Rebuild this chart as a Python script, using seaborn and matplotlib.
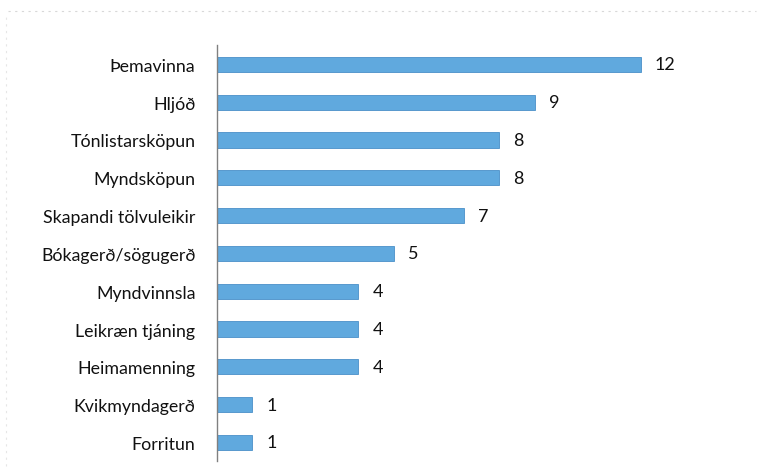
import numpy as np
import pandas as pd
import matplotlib
matplotlib.use("Agg")
import matplotlib.pyplot as plt
import seaborn as sns

# categories and counts (top to bottom)
categories = ["Þemavinna", "Hljóð", "Tónlistarsköpun", "Myndsköpun",
              "Skapandi tölvuleikir", "Bókagerð/sögugerð", "Myndvinnsla",
              "Leikræn tjáning", "Heimamenning", "Kvikmyndagerð", "Forritun"]
counts = [12, 9, 8, 8, 7, 5, 4, 4, 4, 1, 1]

df = pd.DataFrame({"flokkur": categories, "fjoldi": counts})

sns.set_theme(style="white")
plt.rcParams['font.family'] = ['Lato', 'DejaVu Sans']

fig = plt.figure(figsize=(7.64, 4.77), dpi=100)
ax = fig.add_axes([0.284, 0.0306, 0.647, 0.872])

sns.barplot(data=df, x="fjoldi", y="flokkur", color="#60A9DE",
            width=0.4, saturation=1, ax=ax, edgecolor="#4A90C8", linewidth=0.6)

# value labels right of each bar
for i, v in enumerate(counts):
    ax.text(v + 0.4, i, str(v), va="center", ha="left", fontsize=13, color="#111111")

ax.set_xlim(0, 14)
ax.set_xlabel("")
ax.set_ylabel("")
ax.set_xticks([])
ax.tick_params(axis="y", length=0, pad=15.5, labelsize=12.8, labelcolor="#111111")
for s in ["top", "right", "bottom"]:
    ax.spines[s].set_visible(False)
ax.spines["left"].set_color("#808080")
ax.spines["left"].set_linewidth(1.0)

# faint scan border lines
fig.add_artist(plt.Line2D([0.01, 0.99], [0.975, 0.975], transform=fig.transFigure,
                          color="#d8d8d8", lw=0.8, ls=(0, (2, 4))))
fig.add_artist(plt.Line2D([0.008, 0.008], [0.02, 0.97], transform=fig.transFigure,
                          color="#e6e6e6", lw=0.8, ls=(0, (2, 4))))

fig.savefig("out.png", dpi=100)
